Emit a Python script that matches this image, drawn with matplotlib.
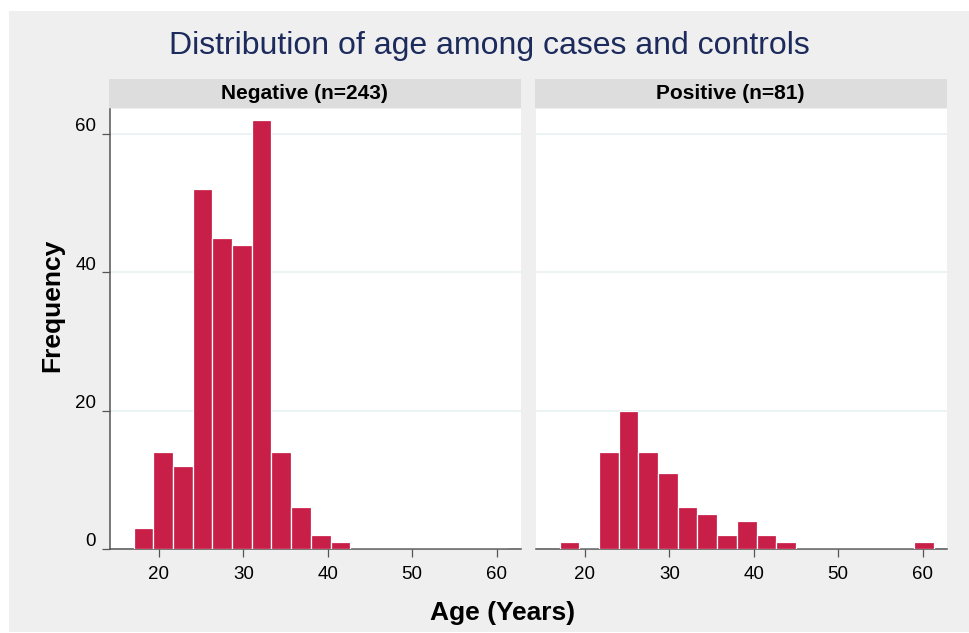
# ==========================================================
# AGE HISTOGRAM - CASES VS CONTROLS
# ==========================================================

import matplotlib
matplotlib.use("Agg")

import matplotlib.pyplot as plt
from matplotlib.patches import Rectangle
from matplotlib.transforms import ScaledTranslation


# ==========================================================
# 1. DATA
# ==========================================================

# left edge of each age bin (years)
bin_edges = [17.0, 19.33, 21.67, 24.0, 26.33, 28.67, 31.0, 33.33, 35.67,
             38.0, 40.33, 42.67, 45.0, 47.33, 49.67, 52.0, 54.33, 56.67, 59.0]
bin_width = 2.33

negative_counts = [3, 14, 12, 52, 45, 44, 62, 14, 6, 2, 1, 0,
                   0, 0, 0, 0, 0, 0, 0]
positive_counts = [1, 0, 14, 20, 14, 11, 6, 5, 2, 4, 2, 1,
                   0, 0, 0, 0, 0, 0, 1]

panel_titles = ["Negative (n=243)", "Positive (n=81)"]

x_ticks = [20, 30, 40, 50, 60]
y_ticks = [0, 20, 40, 60]


# ==========================================================
# 2. STYLE
# ==========================================================

plt.rcParams["font.family"] = ["Liberation Sans", "DejaVu Sans"]

BG_COLOR = "#efefef"
STRIP_COLOR = "#dddddd"
BAR_COLOR = "#c81f48"
GRID_COLOR = "#e8f1f2"
TITLE_COLOR = "#1c2b5c"
AXIS_COLOR = "#555555"

W, H = 969, 633


def px_box(left, top, right, bottom):
    # pixel box (from top-left) -> figure fraction [l, b, w, h]
    return [left / W, 1 - bottom / H, (right - left) / W, (bottom - top) / H]


fig = plt.figure(figsize=(W / 100, H / 100), dpi=100, facecolor="white")

# grey graph region
fig.patches.append(
    Rectangle((9 / W, 1 / H), 1 - 9 / W, (H - 12) / H,
              transform=fig.transFigure, facecolor=BG_COLOR,
              edgecolor="none", zorder=-10)
)


# ==========================================================
# 3. PANELS
# ==========================================================

panels = [
    (negative_counts, 110, True),
    (positive_counts, 536, False),
]

for (counts, left, show_y), title in zip(panels, panel_titles):

    right = left + 411

    # strip header (label sits slightly left of centre, as in the original)
    strip = fig.add_axes(px_box(left - 1, 79, right, 107.5))
    strip.set_facecolor(STRIP_COLOR)
    strip.set_xticks([])
    strip.set_yticks([])
    for s in strip.spines.values():
        s.set_visible(False)
    strip.text(0.5 - 11 / 412, 0.5, title, ha="center", va="center",
               fontsize=15, fontweight="bold", color="black",
               transform=strip.transAxes)

    ax = fig.add_axes(px_box(left, 109, right, 549))
    ax.set_facecolor("white")

    ax.bar(bin_edges, counts, width=bin_width, align="edge",
           color=BAR_COLOR, edgecolor="white", linewidth=0.9, zorder=3)

    ax.set_xlim(14.2, 62.9)
    ax.set_ylim(0, 63.6)

    ax.set_yticks(y_ticks)
    ax.set_xticks(x_ticks)
    ax.yaxis.grid(True, color=GRID_COLOR, linewidth=1.2, zorder=0)
    ax.set_axisbelow(True)

    for name in ["top", "right"]:
        ax.spines[name].set_visible(False)
    ax.spines["bottom"].set_color(AXIS_COLOR)
    ax.spines["bottom"].set_linewidth(1.1)

    ax.tick_params(axis="x", length=6, width=0.9, color=AXIS_COLOR,
                   labelsize=13.5, pad=6)

    if show_y:
        ax.spines["left"].set_color(AXIS_COLOR)
        ax.spines["left"].set_linewidth(1.1)
        ax.tick_params(axis="y", length=6, width=0.9, color=AXIS_COLOR,
                       labelsize=13.5, pad=4)
        # labels sit a little above the ticks
        shift = ScaledTranslation(0, 9 / 100, fig.dpi_scale_trans)
        for lab in ax.get_yticklabels():
            lab.set_transform(lab.get_transform() + shift)
    else:
        ax.spines["left"].set_visible(False)
        ax.tick_params(axis="y", left=False, labelleft=False)


# ==========================================================
# 4. TITLES
# ==========================================================

fig.text(489 / W, 1 - 54 / H, "Distribution of age among cases and controls",
         ha="center", va="baseline", fontsize=23, color=TITLE_COLOR)

fig.text(503 / W, 1 - 613 / H, "Age (Years)", ha="center", va="center",
         fontsize=19, fontweight="bold", color="black")

fig.text(52 / W, 1 - 305 / H, "Frequency", ha="center", va="center",
         rotation=90, fontsize=19, fontweight="bold", color="black")

plt.savefig("out.png", dpi=100, facecolor=fig.get_facecolor())
